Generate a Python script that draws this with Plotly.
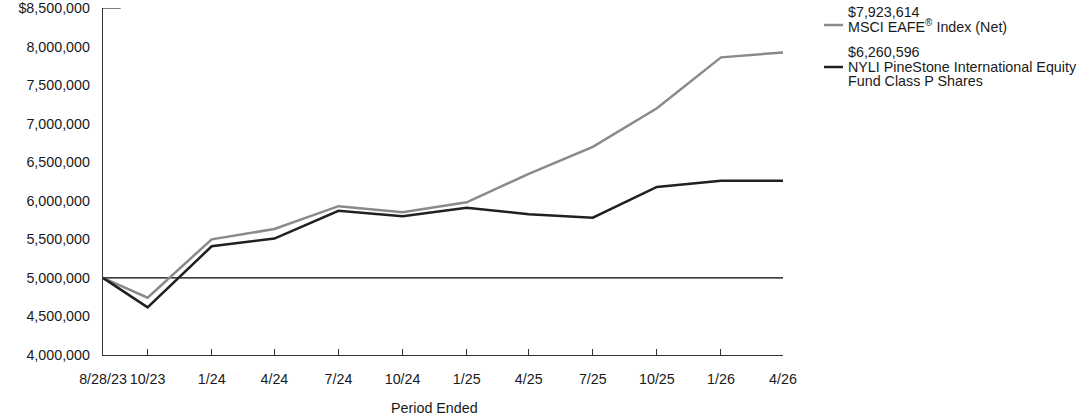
import plotly.graph_objects as go

dates = ["2023-08-28", "2023-10-31", "2024-01-31", "2024-04-30", "2024-07-31", "2024-10-31",
         "2025-01-31", "2025-04-30", "2025-07-31", "2025-10-31", "2026-01-31", "2026-04-30"]
x_labels = ["8/28/23", "10/23", "1/24", "4/24", "7/24", "10/24", "1/25", "4/25", "7/25", "10/25", "1/26", "4/26"]

msci = [5000000, 4743000, 5500000, 5634000, 5930000, 5850000, 5980000, 6350000, 6700000, 7200000, 7860000, 7923614]
fund = [5000000, 4618000, 5410000, 5510000, 5870000, 5800000, 5910000, 5825000, 5780000, 6180000, 6260000, 6260596]

y_vals = [4000000, 4500000, 5000000, 5500000, 6000000, 6500000, 7000000, 7500000, 8000000, 8500000]
y_labels = ["4,000,000", "4,500,000", "5,000,000", "5,500,000", "6,000,000", "6,500,000",
            "7,000,000", "7,500,000", "8,000,000", "$8,500,000"]

msci_name = "MSCI EAFE<sup>®</sup> Index (Net)"
fund_name_lines = ["NYLI PineStone International Equity", "Fund Class P Shares"]
msci_end = "$7,923,614"
fund_end = "$6,260,596"

GRAY = "#8a8a8a"
BLACK = "#231f20"
FONT = "Liberation Sans, Arial, sans-serif"
FS = 14.3

fig = go.Figure()
fig.add_trace(go.Scatter(x=dates, y=msci, mode="lines", line=dict(color=GRAY, width=2.5),
                         showlegend=False, hoverinfo="skip"))
fig.add_trace(go.Scatter(x=dates, y=fund, mode="lines", line=dict(color=BLACK, width=2.5),
                         showlegend=False, hoverinfo="skip"))

# baseline at 5,000,000
fig.add_shape(type="line", xref="paper", yref="y", x0=0, x1=1, y0=5000000, y1=5000000,
              line=dict(color="black", width=1.2), layer="below")
# top tick
fig.add_shape(type="line", xref="paper", yref="y", x0=0, x1=0.026, y0=8500000, y1=8500000,
              line=dict(color="#333333", width=1.3))

W, H = 1092, 417
L, R, T, B = 103, 309, 8, 62
pw = W - L - R
ph = H - T - B

def px_x(px):
    return (px - L) / pw

def px_y(py):
    return (H - B - py) / ph

anns = []
def txt(text, x, y, size=FS, anchor="left"):
    anns.append(dict(text=text, x=px_x(x), y=px_y(y), xref="paper", yref="paper",
                     xanchor=anchor, yanchor="middle", showarrow=False,
                     font=dict(family=FONT, size=size, color="#1a1a1a")))

txt(msci_end, 846, 12)
txt(msci_name, 846, 26)
txt(fund_end, 846, 52)
txt(fund_name_lines[0], 846, 67)
txt(fund_name_lines[1], 846, 81)
txt("Period Ended", 434, 408, anchor="center")

fig.add_shape(type="line", xref="paper", yref="paper", x0=px_x(824), x1=px_x(843),
              y0=px_y(25), y1=px_y(25), line=dict(color=GRAY, width=2.5))
fig.add_shape(type="line", xref="paper", yref="paper", x0=px_x(824), x1=px_x(843),
              y0=px_y(67), y1=px_y(67), line=dict(color=BLACK, width=2.5))

fig.update_layout(
    width=W, height=H,
    margin=dict(l=L, r=R, t=T, b=B, pad=0),
    paper_bgcolor="white", plot_bgcolor="white",
    font=dict(family=FONT, size=FS, color="#1a1a1a"),
    annotations=anns,
    xaxis=dict(type="date", range=[dates[0], dates[-1]], tickvals=dates, ticktext=x_labels,
               showgrid=False, zeroline=False, showline=True, linecolor="#333333", linewidth=1.3,
               ticks="inside", ticklen=6, tickcolor="#333333", tickwidth=1.3,
               ticklabelstandoff=11, automargin=False, tickangle=0),
    yaxis=dict(range=[4000000, 8500000], tickvals=y_vals, ticktext=y_labels,
               showgrid=False, zeroline=False, showline=True, linecolor="#333333", linewidth=1.3,
               ticks="", ticklabelstandoff=9, automargin=False),
)

fig.write_html("out.html")
